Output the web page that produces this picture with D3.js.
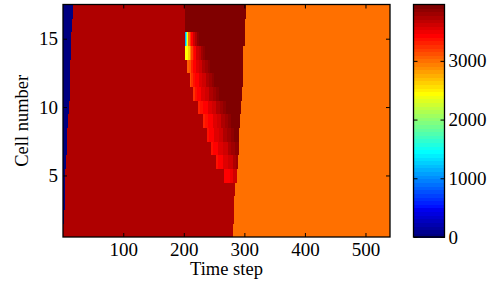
<!DOCTYPE html>
<html>
<head>
<meta charset="utf-8">
<script src="https://cdn.jsdelivr.net/npm/d3@7"></script>
<style>
  html, body { margin: 0; padding: 0; background: #fff; }
  svg { display: block; font-family: "Liberation Serif", "Times New Roman", serif; }
</style>
</head>
<body>
<svg id="chart" width="494" height="288"></svg>
<script>
// ---------------- DATA ----------------
const nSteps = 540;                       // time steps 1..540
const cells = d3.range(1, 18);            // cell numbers 1..17
const colorMax = 3960;                    // top of colour scale

// run-length rows: [first time step, value] – each run lasts until the next one starts
const runsCell1  = [[1, 3740], [281, 3020]];
const runsCell2  = [[1, 0], [2, 3740], [283, 3020]];
const runsCell3  = [[1, 0], [4, 3740], [284, 3020]];
const runsCell4  = [[1, 0], [5, 3740], [285, 3020]];
const runsCell5  = [[1, 0], [5, 3740], [267, 3450], [276, 3500], [282, 3600], [288, 3020]];
const runsCell6  = [[1, 0], [6, 3740], [254, 3400], [257, 3450], [265, 3550], [273, 3650], [281, 3740], [286, 3800], [290, 3020]];
const runsCell7  = [[1, 0], [7, 3740], [245, 3350], [249, 3450], [257, 3550], [265, 3650], [273, 3740], [279, 3800], [285, 3880], [291, 3020]];
const runsCell8  = [[1, 0], [8, 3740], [238, 3350], [242, 3450], [250, 3550], [258, 3650], [266, 3740], [272, 3800], [278, 3880], [284, 3960], [292, 3020]];
const runsCell9  = [[1, 0], [9, 3740], [232, 3300], [236, 3400], [240, 3450], [248, 3550], [255, 3650], [262, 3740], [268, 3800], [273, 3880], [278, 3960], [294, 3020]];
const runsCell10 = [[1, 0], [11, 3740], [224, 3300], [228, 3400], [232, 3450], [240, 3550], [247, 3650], [254, 3740], [260, 3800], [265, 3880], [270, 3960], [295, 3020]];
const runsCell11 = [[1, 0], [12, 3740], [216, 3250], [219, 3350], [223, 3450], [229, 3550], [236, 3650], [242, 3740], [248, 3800], [253, 3880], [259, 3960], [296, 3020]];
const runsCell12 = [[1, 0], [12, 3740], [210, 3150], [213, 3250], [216, 3350], [219, 3450], [225, 3550], [231, 3650], [237, 3740], [242, 3800], [247, 3880], [251, 3960], [298, 3020]];
const runsCell13 = [[1, 0], [13, 3740], [206, 3050], [209, 3150], [212, 3300], [215, 3450], [220, 3550], [225, 3650], [230, 3740], [235, 3800], [240, 3880], [244, 3960], [298, 3020]];
const runsCell14 = [[1, 0], [14, 3740], [203, 2450], [208, 2650], [211, 2950], [213, 3200], [215, 3350], [218, 3450], [221, 3600], [225, 3700], [229, 3800], [233, 3880], [236, 3960], [299, 3020]];
const runsCell15 = [[1, 0], [15, 3740], [202, 1150], [204, 1700], [206, 2450], [208, 3000], [210, 3250], [213, 3450], [216, 3600], [219, 3740], [222, 3850], [225, 3960], [301, 3020]];
const runsCell16 = [[1, 0], [16, 3740], [202, 3960], [302, 3020]];
const runsCell17 = [[1, 0], [17, 3740], [202, 3960], [303, 3020]];
const rowRuns = [runsCell1, runsCell2, runsCell3, runsCell4, runsCell5, runsCell6, runsCell7, runsCell8, runsCell9,
                 runsCell10, runsCell11, runsCell12, runsCell13, runsCell14, runsCell15, runsCell16, runsCell17];

const xTicks = [100, 200, 300, 400, 500];
const yTicks = [5, 10, 15];
const cbTicks = [0, 1000, 2000, 3000];

// ---------------- COLOUR MAP (MATLAB jet, 64 levels) ----------------
function jetRow(i) { // i = 0..63
  const n = i + 1;
  const c = v => Math.max(0, Math.min(1, v));
  const g = c((n - 8) / 16) - c((n - 40) / 16);
  const b = c((n + 7) / 16) - c((n - 24) / 16);
  const r = n <= 56 ? c((n - 24) / 16) : 1 - (n - 56) / 16;
  return d3.rgb(Math.round(r * 255), Math.round(g * 255), Math.round(b * 255)).toString();
}
const jetColors = d3.range(64).map(jetRow);
function colorOf(v) {
  let idx = Math.floor(v / colorMax * 64);
  idx = Math.max(0, Math.min(63, idx));
  return jetColors[idx];
}

// ---------------- LAYOUT ----------------
const svg = d3.select("#chart");
const plot = { left: 63, right: 390, top: 4.5, bottom: 237 };
const cb = { left: 413.5, right: 444.5, top: 4.5, bottom: 237 };
const tickFont = 19;
const titleFont = 18.5;

const x = d3.scaleLinear().domain([0.5, nSteps + 0.5]).range([plot.left, plot.right]);
const y = d3.scaleLinear().domain([0.5, cells.length + 0.5]).range([plot.bottom, plot.top]);
const yc = d3.scaleLinear().domain([0, colorMax]).range([cb.bottom, cb.top]);

// ---------------- HEATMAP ----------------
const segs = [];
rowRuns.forEach((runs, ri) => {
  const cell = cells[ri];
  runs.forEach((r, j) => {
    const start = r[0];
    const end = j + 1 < runs.length ? runs[j + 1][0] - 1 : nSteps;
    segs.push({ cell, start, end, value: r[1] });
  });
});

svg.append("g")
  .attr("shape-rendering", "crispEdges")
  .selectAll("rect")
  .data(segs)
  .join("rect")
  .attr("x", d => x(d.start - 0.5))
  .attr("width", d => x(d.end + 0.5) - x(d.start - 0.5) + 0.4)
  .attr("y", d => y(d.cell + 0.5))
  .attr("height", d => y(d.cell - 0.5) - y(d.cell + 0.5) + 0.4)
  .attr("fill", d => colorOf(d.value));

// ---------------- AXES ----------------
const tickLen = 4;
const xAxisB = d3.axisBottom(x).tickValues(xTicks).tickSize(-tickLen).tickPadding(6);
const xAxisT = d3.axisTop(x).tickValues(xTicks).tickSize(-tickLen).tickFormat("");
const yAxisL = d3.axisLeft(y).tickValues(yTicks).tickSize(-tickLen).tickPadding(5);
const yAxisR = d3.axisRight(y).tickValues(yTicks).tickSize(-tickLen).tickFormat("");

function styleAxis(g) {
  g.select(".domain").remove();
  g.selectAll("line").attr("stroke", "#000").attr("stroke-width", 1);
  g.selectAll("text").attr("fill", "#000").attr("font-size", tickFont)
    .attr("font-family", "Liberation Serif, Times New Roman, serif");
}

svg.append("g").attr("transform", `translate(0,${plot.bottom})`).call(xAxisB).call(styleAxis);
svg.append("g").attr("transform", `translate(0,${plot.top})`).call(xAxisT).call(styleAxis);
svg.append("g").attr("transform", `translate(${plot.left},0)`).call(yAxisL).call(styleAxis);
svg.append("g").attr("transform", `translate(${plot.right},0)`).call(yAxisR).call(styleAxis);

svg.append("rect")
  .attr("x", plot.left).attr("y", plot.top)
  .attr("width", plot.right - plot.left).attr("height", plot.bottom - plot.top)
  .attr("fill", "none").attr("stroke", "#000").attr("stroke-width", 1.3);

// axis titles
svg.append("text")
  .attr("x", (plot.left + plot.right) / 2).attr("y", 275)
  .attr("text-anchor", "middle").attr("font-size", titleFont).attr("fill", "#000")
  .text("Time step");
svg.append("text")
  .attr("transform", `translate(28,${(plot.top + plot.bottom) / 2}) rotate(-90)`)
  .attr("text-anchor", "middle").attr("font-size", titleFont).attr("fill", "#000")
  .text("Cell number");

// ---------------- COLORBAR ----------------
const bandH = (cb.bottom - cb.top) / 64;
svg.append("g").attr("shape-rendering", "crispEdges")
  .selectAll("rect")
  .data(jetColors)
  .join("rect")
  .attr("x", cb.left)
  .attr("width", cb.right - cb.left)
  .attr("y", (d, i) => yc((i + 1) * colorMax / 64))
  .attr("height", bandH + 0.5)
  .attr("fill", d => d);

const cbAxisR = d3.axisRight(yc).tickValues(cbTicks).tickSize(-tickLen).tickPadding(4).tickFormat(d3.format("d"));
const cbAxisL = d3.axisLeft(yc).tickValues(cbTicks).tickSize(-tickLen).tickFormat("");
svg.append("g").attr("transform", `translate(${cb.right},0)`).call(cbAxisR).call(styleAxis);
svg.append("g").attr("transform", `translate(${cb.left},0)`).call(cbAxisL).call(styleAxis);

svg.append("rect")
  .attr("x", cb.left).attr("y", cb.top)
  .attr("width", cb.right - cb.left).attr("height", cb.bottom - cb.top)
  .attr("fill", "none").attr("stroke", "#000").attr("stroke-width", 1.3);
</script>
</body>
</html>
